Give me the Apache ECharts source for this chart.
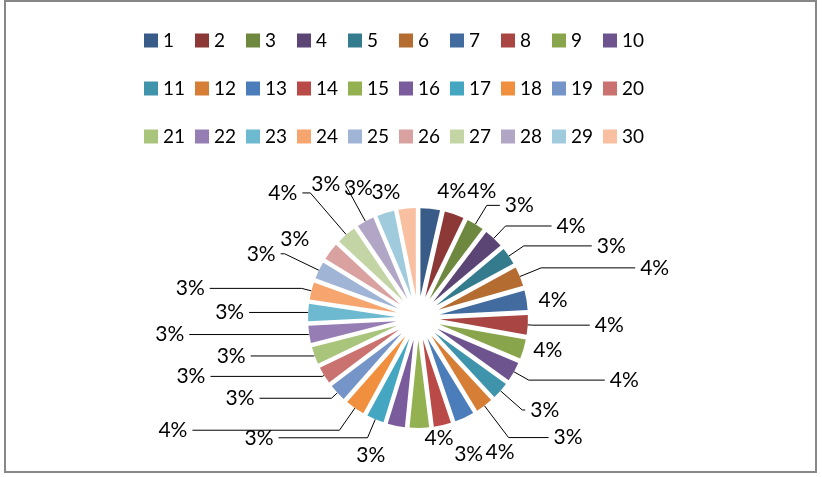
<!DOCTYPE html>
<html>
<head>
    <meta charset="utf-8">
    <title>ECharts</title>
    <script src="https://cdn.jsdelivr.net/npm/echarts@6/dist/echarts.min.js"></script>
    <style>
      html, body { margin: 0; padding: 0; background: #fff; }
      #main { width: 822px; height: 477px; }
    </style>
</head>
<body>
    <div id="main"></div>
    <script type="text/javascript">
      // 数据
      var names = ['1','2','3','4','5','6','7','8','9','10',
                   '11','12','13','14','15','16','17','18','19','20',
                   '21','22','23','24','25','26','27','28','29','30'];
      var shares = [3.6, 3.6, 3.2, 3.6, 3.2, 3.6, 3.6, 3.6, 3.6, 3.6,
                    3.2, 3.2, 3.6, 3.2, 3.6, 3.2, 3.2, 3.6, 3.2, 3.2,
                    3.2, 3.2, 3.2, 3.2, 3.2, 3.2, 3.6, 3.2, 3.2, 3.2];
      var colors = ['#385b87','#8c3836','#6f883f','#5b4575','#357b8e','#b46c31',
                    '#426ba0','#a94543','#88a54b','#6d548f','#3f93ab','#d67e36',
                    '#4a7dba','#b94a48','#94b152','#7a5c9d','#44a6c0','#f0903f',
                    '#7595c8','#c97270','#a9c47b','#967db3','#6db9d0','#f6a56f',
                    '#a0b4d6','#d9a2a1','#c3d4a5','#b2a6c6','#a0cbdc','#f8bfa0'];

      // 标签引导线：[径向长度, 水平长度, 是否显示线]
      var labelReach = [
        [18, 0, 0], [24, 0, 0], [22, 13, 1], [17, 46, 1], [18, 68, 1],
        [23, 94, 1], [2, 5, 0], [5, 57, 1], [5, 0, 0], [17, 76, 1],
        [29, 3, 1], [40, 40, 1], [38, 0, 0], [30, 0, 0], [10, 0, 0],
        [30, 0, 0], [20, 89, 1], [27, 147, 1], [8, 72, 1], [2, 112, 1],
        [1, 63, 1], [1, 119, 1], [1, 58, 1], [10, 92, 1], [38, 4, 1],
        [20, 0, 0], [55, 8, 1], [42, 0, 1], [26, 0, 0], [16, 0, 0]
      ];

      var font = 'Lato, "Open Sans", sans-serif';

      // 图例：每行10项，固定步距
      var legends = names.map(function (n, i) {
        return {
          data: [n],
          left: 144 + (i % 10) * 51,
          top: 31 + Math.floor(i / 10) * 48,
          padding: 0,
          icon: 'rect',
          itemWidth: 14,
          itemHeight: 14,
          selectedMode: false,
          textStyle: { fontSize: 19, color: '#000', fontFamily: font }
        };
      });

      var myChart = echarts.init(document.getElementById('main'));
      var option = {
        animation: false,
        color: colors,
        legend: legends,
        graphic: [{
          type: 'rect',
          shape: { x: 5, y: 1, width: 811, height: 471 },
          style: { fill: 'none', stroke: '#878787', lineWidth: 2 },
          silent: true
        }],
        series: [{
          type: 'pie',
          center: [418, 318],
          radius: [0, 88],
          startAngle: 90,
          clockwise: true,
          selectedMode: 'multiple',
          selectedOffset: 22,
          avoidLabelOverlap: false,
          labelLayout: { hideOverlap: false },
          emphasis: { disabled: true },
          label: {
            show: true,
            position: 'outside',
            fontSize: 21,
            color: '#000',
            fontFamily: font,
            formatter: function (p) { return Math.round(p.percent) + '%'; }
          },
          labelLine: {
            show: true,
            lineStyle: { color: '#000', width: 1 }
          },
          data: names.map(function (n, i) {
            var r = labelReach[i];
            return {
              name: n,
              value: shares[i],
              selected: true,
              labelLine: {
                show: true,
                length: r[0],
                length2: r[1],
                lineStyle: { color: '#000', width: 1, opacity: r[2] }
              }
            };
          })
        }]
      };
      myChart.setOption(option);
    </script>
</body>
</html>
